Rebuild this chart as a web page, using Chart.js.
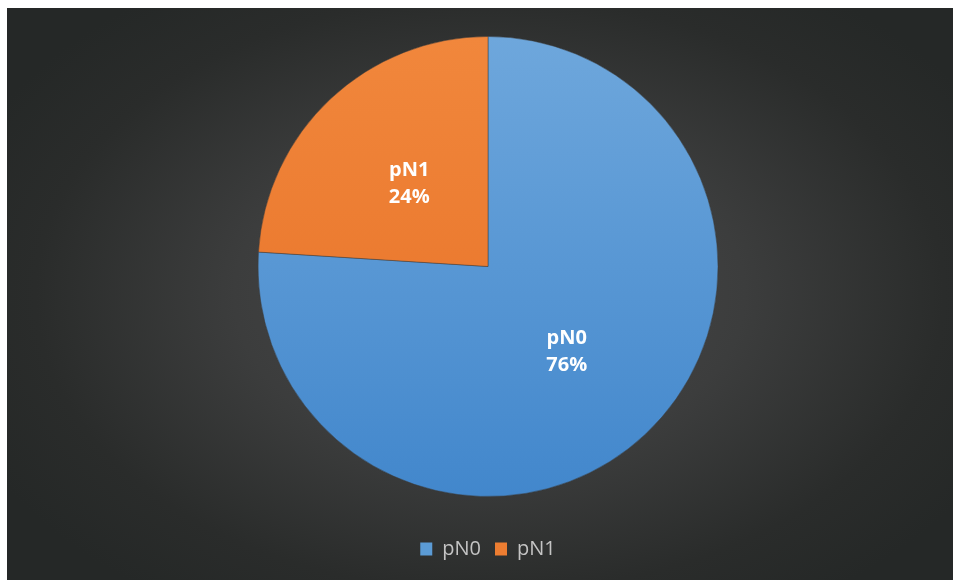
<!DOCTYPE html>
<html>
<head>
<meta charset="utf-8">
<script src="https://cdn.jsdelivr.net/npm/chart.js@4/dist/chart.umd.min.js"></script>
<style>
  html, body { margin: 0; padding: 0; background: #ffffff; }
  #panel {
    position: absolute; left: 7px; top: 8px; width: 946px; height: 572px;
    background: radial-gradient(ellipse 60% 65% at 51% 50%, #4a4a4a 0%, #3c3d3d 45%, #2a2c2b 80%, #252827 100%);
  }
  #chart { display: block; }
</style>
</head>
<body>
<div id="panel"><canvas id="chart" width="946" height="572"></canvas></div>
<script>
const categories = ['pN0', 'pN1'];
const shares = [76, 24];
const percentLabels = ['76%', '24%'];
const sliceTop = ['#6ea7dc', '#f1873c'];
const sliceBottom = ['#4287cc', '#e66f25'];
const legendSwatch = ['#5b9bd5', '#ed7d31'];

// vertical gradients spanning the pie, lighter at the top
const sliceGradients = {
  id: 'sliceGradients',
  afterLayout(chart) {
    const area = chart.chartArea;
    const cy = (area.top + area.bottom) / 2;
    const r = chart.options.radius;
    const ds = chart.data.datasets[0];
    ds.backgroundColor = categories.map((c, i) => {
      const g = chart.ctx.createLinearGradient(0, cy - r, 0, cy + r);
      g.addColorStop(0, sliceTop[i]);
      g.addColorStop(1, sliceBottom[i]);
      return g;
    });
  }
};

// writes the category name and percentage inside each slice
const sliceLabels = {
  id: 'sliceLabels',
  afterDatasetsDraw(chart) {
    const { ctx } = chart;
    const meta = chart.getDatasetMeta(0);
    ctx.save();
    ctx.fillStyle = '#ffffff';
    ctx.font = 'bold 20px "Open Sans", "DejaVu Sans", sans-serif';
    ctx.textAlign = 'center';
    ctx.textBaseline = 'middle';
    meta.data.forEach((arc, i) => {
      const p = arc.getProps(['x', 'y', 'startAngle', 'endAngle', 'outerRadius']);
      const mid = (p.startAngle + p.endAngle) / 2;
      const r = p.outerRadius * 0.5;
      const cx = p.x + Math.cos(mid) * r;
      const cy = p.y + Math.sin(mid) * r;
      ctx.fillText(categories[i], cx, cy - 12);
      ctx.fillText(percentLabels[i], cx, cy + 15);
    });
    ctx.restore();
  }
};

new Chart(document.getElementById('chart'), {
  type: 'pie',
  data: {
    labels: categories,
    datasets: [{
      data: shares,
      backgroundColor: sliceTop,
      borderColor: 'rgba(60,60,60,0.6)',
      borderWidth: 0.8
    }]
  },
  options: {
    responsive: false,
    animation: false,
    radius: 230,
    layout: { padding: { top: 0, left: 16, right: 0, bottom: 11 } },
    plugins: {
      tooltip: { enabled: false },
      legend: {
        position: 'bottom',
        labels: {
          color: '#c4c4c4',
          font: { family: '"Open Sans", "DejaVu Sans", sans-serif', size: 20 },
          boxWidth: 12,
          boxHeight: 13,
          padding: 14,
          generateLabels(chart) {
            return categories.map((c, i) => ({
              text: c, fillStyle: legendSwatch[i], strokeStyle: legendSwatch[i], lineWidth: 0,
              fontColor: '#c4c4c4', index: i, hidden: false
            }));
          }
        }
      }
    }
  },
  plugins: [sliceGradients, sliceLabels]
});
</script>
</body>
</html>
